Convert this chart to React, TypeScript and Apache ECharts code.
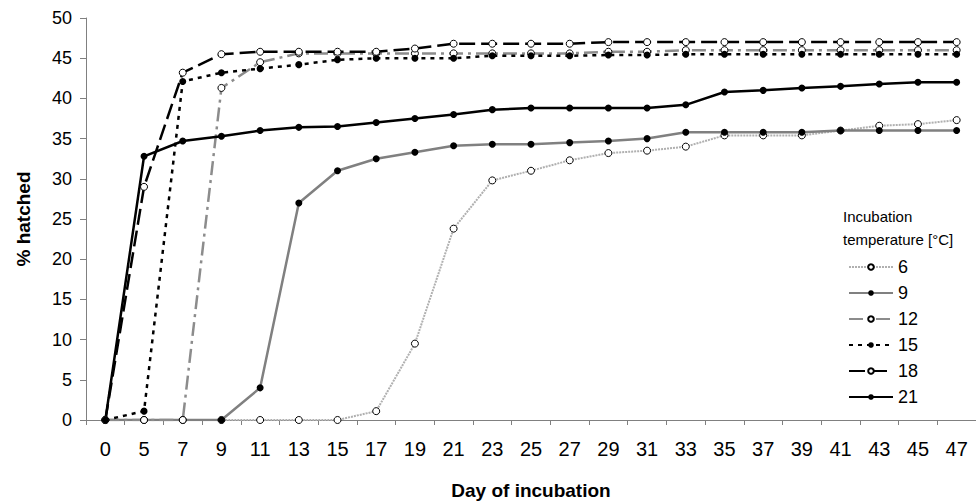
import React, { useEffect, useRef } from "react";
import * as echarts from "echarts";

const days = ["0","5","7","9","11","13","15","17","19","21","23","25","27","29","31","33","35","37","39","41","43","45","47"];
const s6 = [0,0,0,0,0,0,0,1.1,9.5,23.8,29.8,31.0,32.3,33.2,33.5,34.0,35.4,35.4,35.4,36.0,36.6,36.8,37.3];
const s9 = [0,0,0,0,4.0,27.0,31.0,32.5,33.3,34.1,34.3,34.3,34.5,34.7,35.0,35.8,35.8,35.8,35.8,36.0,36.0,36.0,36.0];
const s12 = [0,0,0,41.3,44.5,45.6,45.6,45.6,45.6,45.6,45.6,45.6,45.6,45.8,45.8,46.0,46.0,46.0,46.0,46.0,46.0,46.0,46.0];
const s15 = [0,1.1,42.1,43.2,43.7,44.2,44.8,45.0,45.0,45.0,45.3,45.3,45.3,45.4,45.4,45.5,45.5,45.5,45.5,45.5,45.5,45.5,45.5];
const s18 = [0,29.0,43.2,45.5,45.8,45.8,45.8,45.8,46.2,46.8,46.8,46.8,46.8,47.0,47.0,47.0,47.0,47.0,47.0,47.0,47.0,47.0,47.0];
const s21 = [0,32.8,34.7,35.3,36.0,36.4,36.5,37.0,37.5,38.0,38.6,38.8,38.8,38.8,38.8,39.2,40.8,41.0,41.3,41.5,41.8,42.0,42.0];
const legendNames = ["6", "9", "12", "15", "18", "21"];

const FONT = "Liberation Sans, Arial, sans-serif";
const NARROW = "Liberation Sans Narrow, Arial Narrow, Liberation Sans, sans-serif";

export default function App() {
  const ref = useRef<HTMLDivElement>(null);
  useEffect(() => {
    if (!ref.current) return;
    const chart = echarts.init(ref.current, undefined, { renderer: "svg" });
    const open = { color: "#ffffff", borderColor: "#000000", borderWidth: 1 };
    const filled = { color: "#000000", borderColor: "#000000", borderWidth: 0 };
    const mk = (name: string, data: number[], lineStyle: any, itemStyle: any, size: number) => ({
      name,
      type: "line",
      data,
      symbol: "circle",
      symbolSize: size,
      showSymbol: true,
      lineStyle,
      itemStyle,
    });
    chart.setOption({
      animation: false,
      backgroundColor: "#ffffff",
      grid: { left: 86, right: 0, top: 18, bottom: 81, containLabel: false, outerBoundsMode: "none" },
      xAxis: {
        type: "category",
        data: days,
        boundaryGap: true,
        name: "Day of incubation",
        nameLocation: "middle",
        nameGap: 61,
        nameTextStyle: { fontFamily: FONT, fontSize: 19, fontWeight: "bold", color: "#000" },
        axisLine: { lineStyle: { color: "#808080", width: 1 } },
        axisTick: { show: true, alignWithLabel: false, length: 5, lineStyle: { color: "#808080" } },
        axisLabel: { interval: 0, fontFamily: NARROW, fontSize: 20, color: "#000", margin: 19 },
        splitLine: { show: false },
      },
      yAxis: {
        type: "value",
        min: 0,
        max: 50,
        interval: 5,
        name: "% hatched",
        nameLocation: "middle",
        nameGap: 53,
        nameRotate: 90,
        nameTextStyle: { fontFamily: FONT, fontSize: 19, fontWeight: "bold", color: "#000" },
        axisLine: { show: true, lineStyle: { color: "#808080", width: 1 } },
        axisTick: { show: true, length: 6, lineStyle: { color: "#808080" } },
        axisLabel: { fontFamily: FONT, fontSize: 18, color: "#000", margin: 14 },
        splitLine: { show: false },
      },
      legend: {
        data: legendNames,
        orient: "vertical",
        left: 843,
        top: 253,
        itemWidth: 44,
        itemHeight: 7,
        itemGap: 8,
        textStyle: { fontFamily: FONT, fontSize: 18, color: "#000" },
      },
      graphic: [
        { type: "text", left: 843, top: 209, style: { text: "Incubation", font: "15px " + FONT, fill: "#000" } },
        { type: "text", left: 843, top: 232, style: { text: "temperature [°C]", font: "15px " + FONT, fill: "#000" } },
      ],
      series: [
        mk("6", s6, { color: "#b0b0b0", width: 2, type: [2, 1] }, open, 7),
        mk("9", s9, { color: "#808080", width: 2.5, type: "solid" }, filled, 7),
        mk("12", s12, { color: "#8c8c8c", width: 2.5, type: [14, 5, 3, 5] }, open, 7),
        mk("15", s15, { color: "#000000", width: 2.5, type: [4, 5] }, filled, 7),
        mk("18", s18, { color: "#000000", width: 2.5, type: [16, 6] }, open, 7),
        mk("21", s21, { color: "#000000", width: 2.5, type: "solid" }, filled, 7),
      ],
    });
    return () => chart.dispose();
  }, []);
  return <div ref={ref} style={{ width: 976, height: 501, position: "absolute", left: 0, top: 0 }} />;
}
